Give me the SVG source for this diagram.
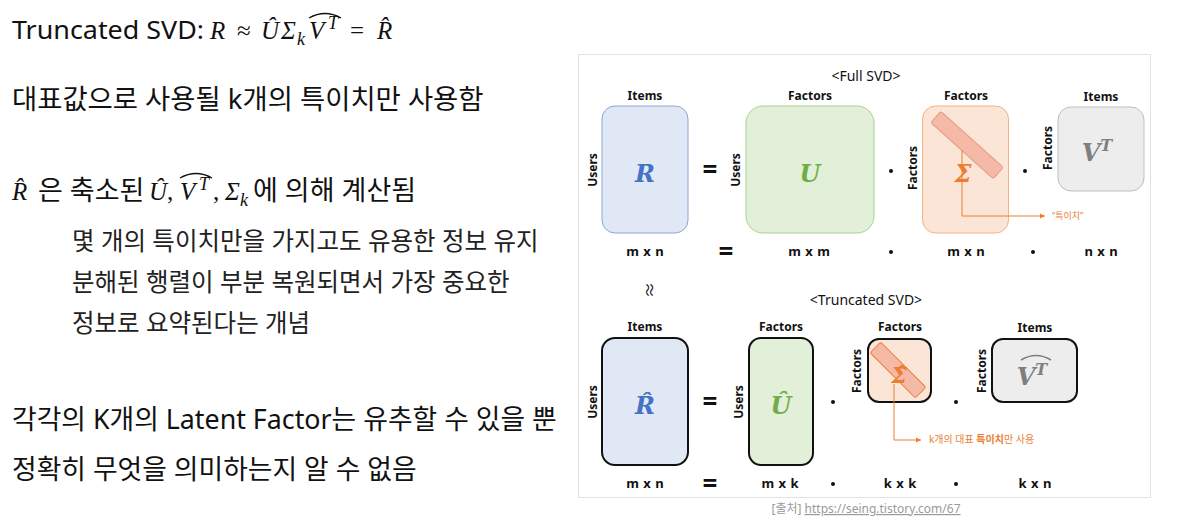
<svg xmlns="http://www.w3.org/2000/svg" width="1182" height="521" viewBox="0 0 1182 521">
<style>
.t{font-family:"Noto Sans","Noto Sans CJK KR",sans-serif;fill:#111}
.k{font-family:"Noto Sans","Noto Sans CJK KR",sans-serif;fill:#222}
.m{font-family:"Liberation Serif","DejaVu Serif",serif;font-style:italic;fill:#111}
.lb{font-family:"Noto Sans","Noto Sans CJK KR",sans-serif;font-weight:700;font-size:12px;fill:#111;text-anchor:middle}
.dm{font-family:"Noto Sans",sans-serif;font-weight:700;font-size:13px;fill:#111;text-anchor:middle;word-spacing:1px}
.eq{font-family:"Noto Sans",sans-serif;font-weight:700;font-size:26px;fill:#111;text-anchor:middle}
.ml{font-family:"DejaVu Serif","Liberation Serif",serif;font-style:italic;font-weight:700;text-anchor:middle}
.or{fill:#ed7d31}
.ld{stroke:#ed7d31;stroke-width:1;fill:none}
.dot{fill:#111}
</style>
<defs>
<marker id="ah" markerWidth="6" markerHeight="6" refX="5" refY="3" orient="auto" markerUnits="userSpaceOnUse">
<path d="M0,0.5 L5,3 L0,5.5 Z" fill="#ed7d31"/>
</marker>
</defs>
<rect width="1182" height="521" fill="#fff"/>

<!-- left text -->
<g id="title">
<text class="t" x="12" y="39" font-size="26" textLength="192" lengthAdjust="spacingAndGlyphs">Truncated SVD:</text>
<text class="m" font-size="25" y="39"><tspan x="210">R</tspan><tspan x="237" font-style="normal">≈</tspan><tspan x="261">Û</tspan><tspan x="281">Σ</tspan><tspan x="297" y="45" font-size="18">k</tspan><tspan x="309" y="39">V</tspan><tspan x="328" y="29" font-size="18">T</tspan><tspan x="350" y="39" font-style="normal">=</tspan><tspan x="377">R̂</tspan></text>
<path d="M309,18 Q325,9 341,18" fill="none" stroke="#111" stroke-width="1.3"/>
</g>
<g id="line1">
<text class="t" x="12" y="109" font-size="27.4">대표값으로 사용될 k개의 특이치만 사용함</text>
</g>
<g id="line2">
<text class="m" font-size="25" y="200"><tspan x="12">R̂</tspan></text>
<text class="t" x="38" y="200" font-size="27">은 축소된</text>
<text class="m" font-size="25" y="200"><tspan x="149">Û</tspan><tspan x="167" font-style="normal">,</tspan><tspan x="180">V</tspan><tspan x="199" y="190" font-size="18">T</tspan><tspan x="213" y="200" font-style="normal">,</tspan><tspan x="225">Σ</tspan><tspan x="240" y="206" font-size="18">k</tspan></text>
<path d="M180,178 Q196,169 212,178" fill="none" stroke="#111" stroke-width="1.3"/>
<text class="t" x="253" y="200" font-size="27">에 의해 계산됨</text>
</g>
<g id="sub">
<text class="k" x="72" y="250" font-size="24.5">몇 개의 특이치만을 가지고도 유용한 정보 유지</text>
<text class="k" x="72" y="291" font-size="24.5">분해된 행렬이 부분 복원되면서 가장 중요한</text>
<text class="k" x="72" y="332" font-size="24.5">정보로 요약된다는 개념</text>
</g>
<g id="line3">
<text class="t" x="12" y="429" font-size="26.8">각각의 K개의 Latent Factor는 유추할 수 있을 뿐</text>
<text class="t" x="12" y="479" font-size="26.8">정확히 무엇을 의미하는지 알 수 없음</text>
</g>

<!-- figure frame -->
<rect x="578.5" y="54.5" width="572" height="443" fill="#fff" stroke="#e2e2e2" stroke-width="1"/>

<g id="full-title"><text class="t" x="866" y="81" font-size="14" text-anchor="middle">&lt;Full SVD&gt;</text></g>

<g id="full-R">
<rect x="602" y="106" width="86" height="127" rx="13" fill="#e0e8f5" stroke="#8fa6d4" stroke-width="1"/>
<text class="lb" x="645" y="100">Items</text>
<text class="lb" transform="translate(597,170) rotate(-90)">Users</text>
<text class="ml" x="645" y="182" font-size="24" fill="#4472c4">R</text>
</g>
<g id="full-U">
<rect x="746" y="106" width="128" height="127" rx="17" fill="#e2efd9" stroke="#a9d18e" stroke-width="1"/>
<text class="lb" x="810" y="100">Factors</text>
<text class="lb" transform="translate(740,170) rotate(-90)">Users</text>
<text class="ml" x="810" y="182" font-size="24" fill="#70ad47">U</text>
</g>
<g id="full-S">
<rect x="922.5" y="106" width="86" height="127" rx="13" fill="#fbe5d6" stroke="#f4b183" stroke-width="1"/>
<text class="lb" x="966" y="100">Factors</text>
<text class="lb" transform="translate(917,168) rotate(-90)">Factors</text>
<rect x="-42" y="-7.5" width="84" height="15" rx="2" fill="#f4b9a7" stroke="#e59a80" stroke-width="1" transform="translate(967,145) rotate(42)"/>
<text class="ml" x="963" y="182" font-size="24" fill="#ed7d31" font-style="normal">Σ</text>
</g>
<g id="full-V">
<rect x="1058" y="107" width="86" height="84" rx="13" fill="#ededed" stroke="#bfbfbf" stroke-width="1"/>
<text class="lb" x="1101" y="101">Items</text>
<text class="lb" transform="translate(1052,148) rotate(-90)">Factors</text>
<text class="ml" x="1097" y="161" font-size="24" fill="#7f7f7f">V<tspan dy="-10" font-size="16">T</tspan></text>
</g>
<g id="full-dims">
<text class="eq" x="710" y="179">=</text>
<circle class="dot" cx="891" cy="171" r="2"/>
<circle class="dot" cx="1025" cy="171" r="2"/>
<text class="dm" x="645" y="256">m x n</text>
<text class="eq" x="726" y="261">=</text>
<text class="dm" x="809" y="256">m x m</text>
<circle class="dot" cx="891" cy="252" r="2"/>
<text class="dm" x="966" y="256">m x n</text>
<circle class="dot" cx="1033" cy="252" r="2"/>
<text class="dm" x="1101" y="256">n x n</text>
</g>
<g id="full-note">
<text class="t or" x="1052" y="219" font-size="9">“특이치”</text>
</g>

<text class="t" font-size="16" text-anchor="middle" transform="translate(644,290) rotate(90)">≈</text>

<g id="trunc-title"><text class="t" x="866" y="305" font-size="14" text-anchor="middle">&lt;Truncated SVD&gt;</text></g>

<g id="tr-R">
<rect x="602" y="338" width="86" height="127" rx="13" fill="#e0e8f5" stroke="#111" stroke-width="2"/>
<text class="lb" x="645" y="331">Items</text>
<text class="lb" transform="translate(597,402) rotate(-90)">Users</text>
<text class="ml" x="645" y="414" font-size="24" fill="#4472c4">R̂</text>
</g>
<g id="tr-U">
<rect x="749" y="338" width="64" height="127" rx="12" fill="#e2efd9" stroke="#111" stroke-width="2"/>
<text class="lb" x="781" y="331">Factors</text>
<text class="lb" transform="translate(743,402) rotate(-90)">Users</text>
<text class="ml" x="781" y="414" font-size="24" fill="#70ad47">Û</text>
</g>
<g id="tr-S">
<rect x="868" y="339" width="63" height="63" rx="11" fill="#fbe5d6" stroke="#111" stroke-width="2"/>
<text class="lb" x="900" y="331">Factors</text>
<text class="lb" transform="translate(861,371) rotate(-90)">Factors</text>
<rect x="-32" y="-7.5" width="64" height="15" rx="2" fill="#f4b9a7" stroke="#ed7d31" stroke-width="1" transform="translate(898,370) rotate(45)"/>
<text class="ml" x="899" y="383" font-size="22" fill="#ed7d31" font-style="normal">Σ̂</text>
</g>
<g id="tr-V">
<rect x="992" y="339" width="85" height="63" rx="11" fill="#ededed" stroke="#111" stroke-width="2"/>
<text class="lb" x="1035" y="332">Items</text>
<text class="lb" transform="translate(986,371) rotate(-90)">Factors</text>
<text class="ml" x="1032" y="385" font-size="24" fill="#7f7f7f">V<tspan dy="-10" font-size="16">T</tspan></text>
<path d="M1021,360 Q1036,351 1051,360" fill="none" stroke="#7f7f7f" stroke-width="1.5"/>
</g>
<g id="tr-dims">
<text class="eq" x="710" y="411">=</text>
<circle class="dot" cx="833" cy="402" r="2"/>
<circle class="dot" cx="956" cy="402" r="2"/>
<text class="dm" x="645" y="488">m x n</text>
<text class="eq" x="710" y="493">=</text>
<text class="dm" x="780" y="488">m x k</text>
<circle class="dot" cx="833" cy="484" r="2"/>
<text class="dm" x="900" y="488">k x k</text>
<circle class="dot" cx="956" cy="484" r="2"/>
<text class="dm" x="1035" y="488">k x n</text>
</g>
<g id="tr-note">
<text class="t or" x="929" y="443" font-size="10">k개의 대표 <tspan font-weight="700">특이치</tspan>만 사용</text>
</g>

<g id="connectors">
<path class="ld" d="M962,150 V216 H1045" marker-end="url(#ah)"/>
<path class="ld" d="M894,384 V440 H921" marker-end="url(#ah)"/>
</g>

<g id="caption">
<text class="t" x="866" y="513" font-size="12" text-anchor="middle" style="fill:#9a9a9a">[출처] <tspan text-decoration="underline">https://seing.tistory.com/67</tspan></text>
</g>
</svg>
